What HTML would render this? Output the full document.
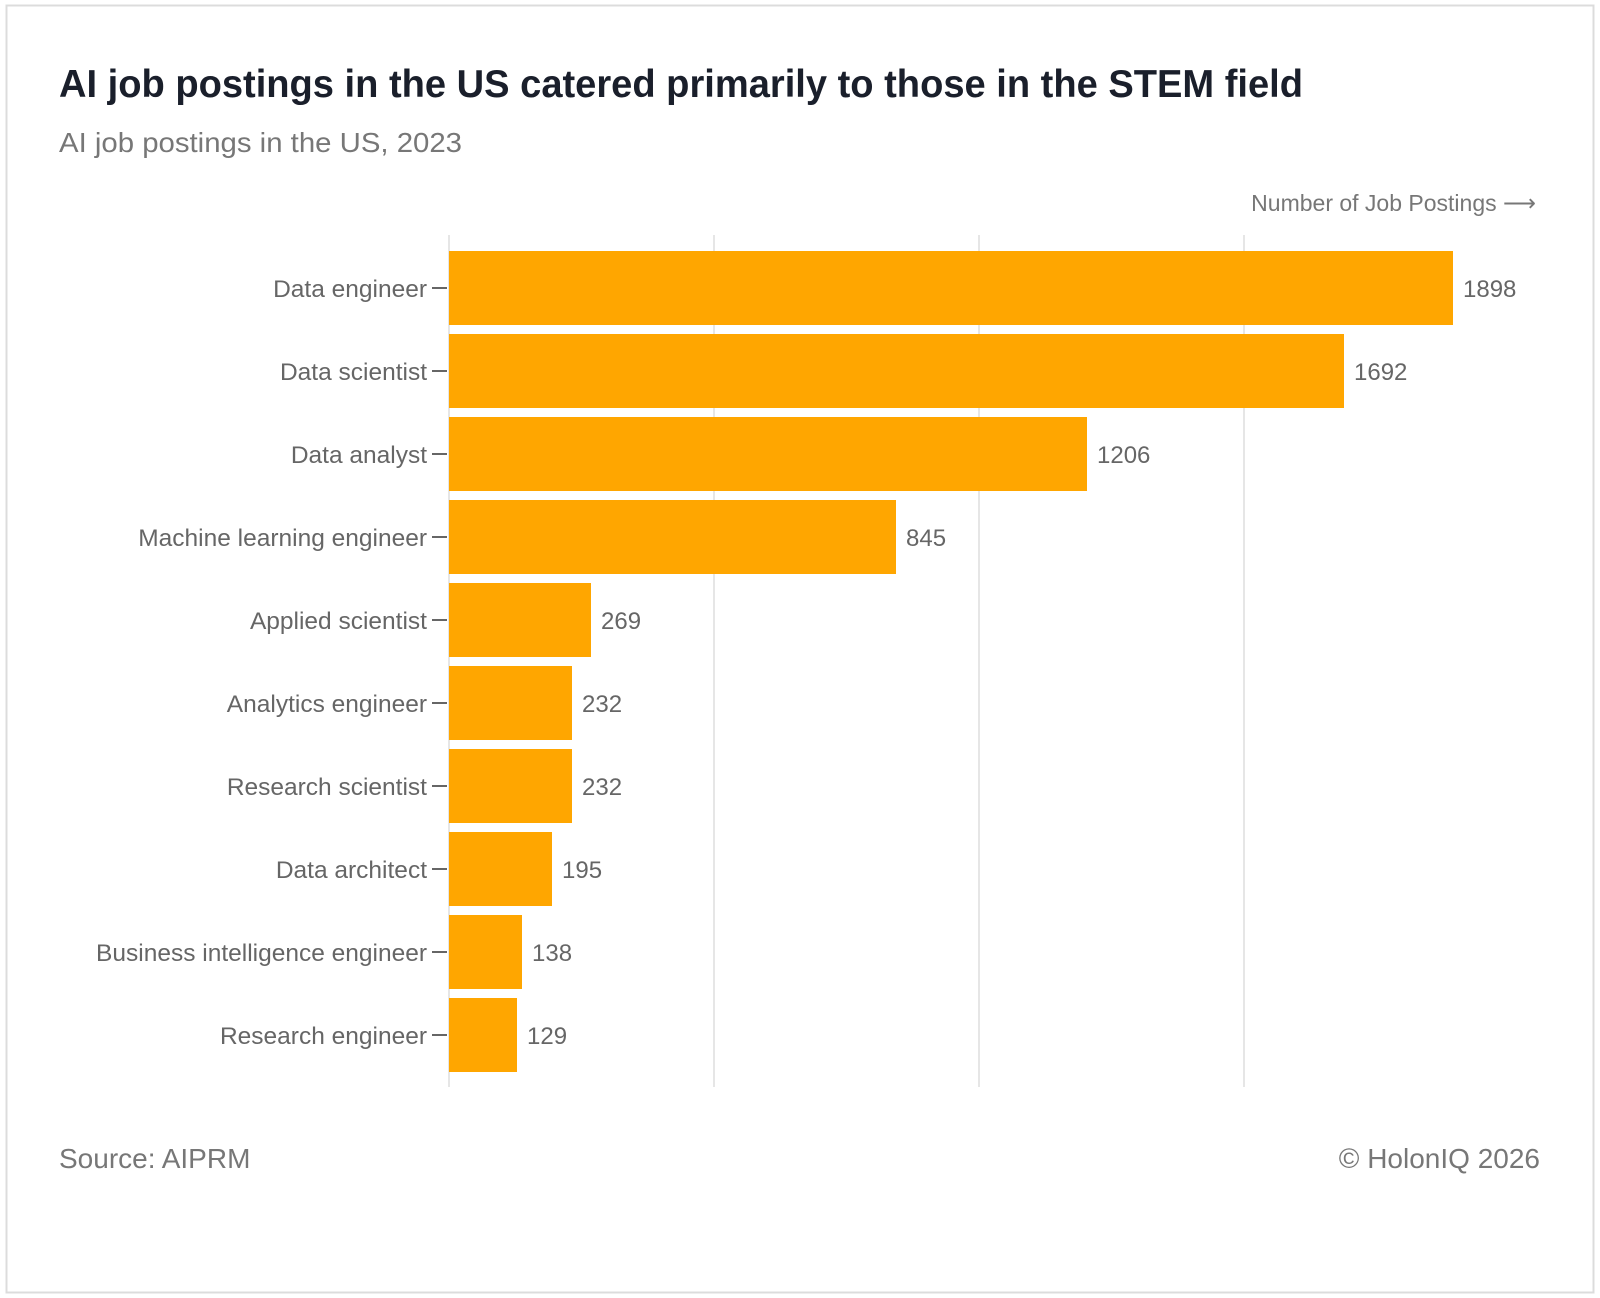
<!DOCTYPE html>
<html><head><meta charset="utf-8"><style>
html,body{margin:0;padding:0;background:#fff;}
svg{display:block;font-family:"Liberation Sans",sans-serif;}
</style></head><body>
<svg width="1600" height="1298" viewBox="0 0 1600 1298">
<rect x="6.5" y="5.5" width="1587" height="1287" fill="#fff" stroke="#dcdcdc" stroke-width="2"/>
<text x="59" y="97" font-size="39" font-weight="bold" fill="#1a1f2b" textLength="1244" lengthAdjust="spacingAndGlyphs">AI job postings in the US catered primarily to those in the STEM field</text>
<text x="59" y="152" font-size="28" fill="#777" textLength="403" lengthAdjust="spacingAndGlyphs">AI job postings in the US, 2023</text>
<text x="1536" y="211" font-size="23" fill="#777" text-anchor="end">Number of Job Postings ⟶</text>
<g stroke="#e6e6e6" stroke-width="2">
<line x1="449" y1="235" x2="449" y2="1087"/>
<line x1="714" y1="235" x2="714" y2="1087"/>
<line x1="979" y1="235" x2="979" y2="1087"/>
<line x1="1244" y1="235" x2="1244" y2="1087"/>
</g>
<g fill="#ffa600">
<rect x="449" y="251" width="1004" height="74"/>
<rect x="449" y="334" width="895" height="74"/>
<rect x="449" y="417" width="638" height="74"/>
<rect x="449" y="500" width="447" height="74"/>
<rect x="449" y="583" width="142" height="74"/>
<rect x="449" y="666" width="123" height="74"/>
<rect x="449" y="749" width="123" height="74"/>
<rect x="449" y="832" width="103" height="74"/>
<rect x="449" y="915" width="73" height="74"/>
<rect x="449" y="998" width="68" height="74"/>
</g>
<g stroke="#666" stroke-width="2">
<line x1="432" x2="447" y1="288" y2="288"/>
<line x1="432" x2="447" y1="371" y2="371"/>
<line x1="432" x2="447" y1="454" y2="454"/>
<line x1="432" x2="447" y1="537" y2="537"/>
<line x1="432" x2="447" y1="620" y2="620"/>
<line x1="432" x2="447" y1="703" y2="703"/>
<line x1="432" x2="447" y1="786" y2="786"/>
<line x1="432" x2="447" y1="869" y2="869"/>
<line x1="432" x2="447" y1="952" y2="952"/>
<line x1="432" x2="447" y1="1035" y2="1035"/>
</g>
<g font-size="24.5" fill="#666" text-anchor="end">
<text x="427" y="297">Data engineer</text>
<text x="427" y="380">Data scientist</text>
<text x="427" y="463">Data analyst</text>
<text x="427" y="546">Machine learning engineer</text>
<text x="427" y="629">Applied scientist</text>
<text x="427" y="712">Analytics engineer</text>
<text x="427" y="795">Research scientist</text>
<text x="427" y="878">Data architect</text>
<text x="427" y="961">Business intelligence engineer</text>
<text x="427" y="1044">Research engineer</text>
</g>
<g font-size="24" fill="#666">
<text x="1463" y="297">1898</text>
<text x="1354" y="380">1692</text>
<text x="1097" y="463">1206</text>
<text x="906" y="546">845</text>
<text x="601" y="629">269</text>
<text x="582" y="712">232</text>
<text x="582" y="795">232</text>
<text x="562" y="878">195</text>
<text x="532" y="961">138</text>
<text x="527" y="1044">129</text>
</g>
<text x="59" y="1168" font-size="28" fill="#777">Source: AIPRM</text>
<text x="1540" y="1168" font-size="28" fill="#777" text-anchor="end">© HolonIQ 2026</text>
</svg>
</body></html>
